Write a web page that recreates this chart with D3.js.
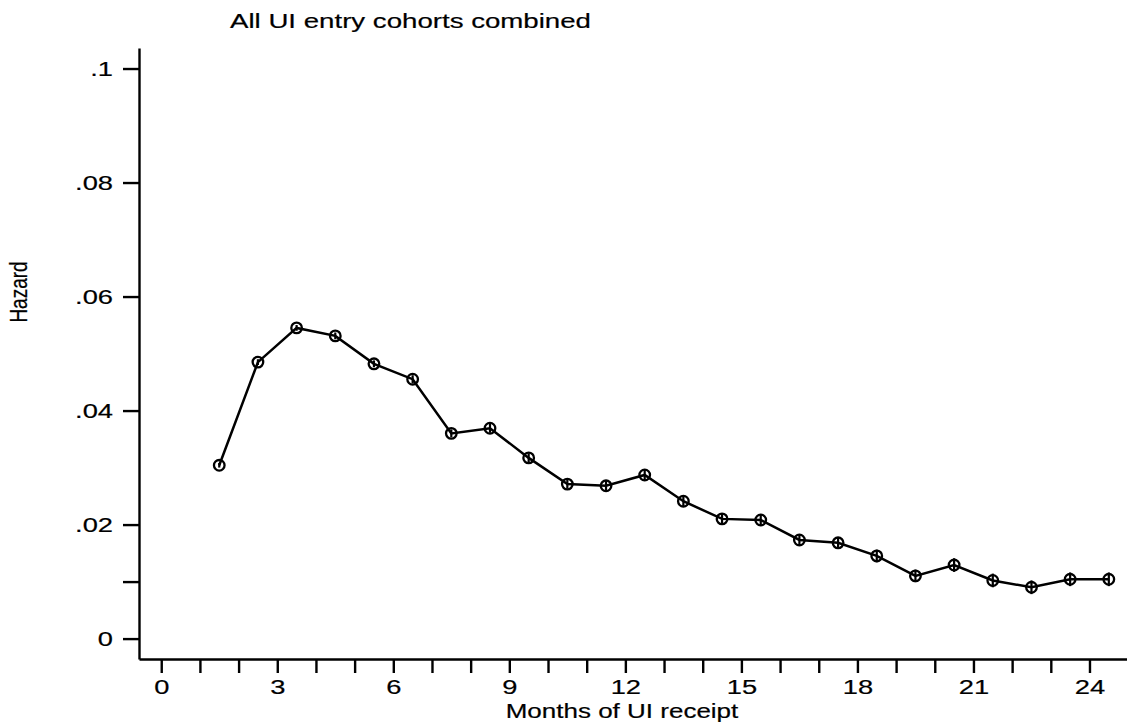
<!DOCTYPE html>
<html>
<head>
<meta charset="utf-8">
<script src="https://cdn.jsdelivr.net/npm/d3@7/dist/d3.min.js"></script>
<style>
  body { margin: 0; background: #fff; }
  svg text { font-family: "Liberation Sans", Arial, sans-serif; fill: #000; stroke: #000; stroke-width: 0.2px; }
</style>
</head>
<body>
<svg id="chart" width="1127" height="728"></svg>
<script>
// hazard by month of UI receipt (mid-month points)
const months = [1.5, 2.5, 3.5, 4.5, 5.5, 6.5, 7.5, 8.5, 9.5, 10.5, 11.5, 12.5,
                13.5, 14.5, 15.5, 16.5, 17.5, 18.5, 19.5, 20.5, 21.5, 22.5, 23.5, 24.5];
const hazard = [0.0304, 0.0485, 0.0545, 0.0531, 0.0482, 0.0455, 0.0360, 0.0369,
                0.0317, 0.0271, 0.0268, 0.0287, 0.0241, 0.0210, 0.0208, 0.0173,
                0.0168, 0.0145, 0.0110, 0.0129, 0.0102, 0.0090, 0.0104, 0.0104];
// half width of the confidence band at each point
const ciHalf = [0.0004, 0.0005, 0.0005, 0.0006, 0.0006, 0.0007, 0.0007, 0.0008,
                0.0008, 0.0008, 0.0009, 0.0009, 0.0009, 0.0010, 0.0010, 0.0010,
                0.0010, 0.0011, 0.0011, 0.0012, 0.0012, 0.0012, 0.0012, 0.0012];
const xTicks = d3.range(0, 25);
const yTicks = [0, 0.01, 0.02, 0.04, 0.06, 0.08, 0.1];
const yLabels = {0: "0", 0.02: ".02", 0.04: ".04", 0.06: ".06", 0.08: ".08", 0.1: ".1"};

const svg = d3.select("#chart");
const stretch = 1.3; // text in the original is drawn wide

// scales
const x = d3.scaleLinear().domain([-0.575, 24.97]).range([139, 1127]);
const y = d3.scaleLinear().domain([-0.00358, 0.1036]).range([659, 48]);

// x axis
const xAxis = d3.axisBottom(x)
    .tickValues(xTicks)
    .tickSize(14)
    .tickSizeOuter(0)
    .tickPadding(6)
    .tickFormat(d => d % 3 === 0 ? d : "");
const gx = svg.append("g")
    .attr("transform", "translate(0,659)")
    .call(xAxis);
gx.selectAll("path, line").attr("stroke", "#000").attr("stroke-width", 2.4);
gx.selectAll("text")
    .style("font-size", "21px")
    .attr("transform", "scale(" + stretch + ",1)");

// y axis
const yAxis = d3.axisLeft(y)
    .tickValues(yTicks)
    .tickSize(16)
    .tickSizeOuter(0)
    .tickFormat(d => yLabels[d] || "");
const gy = svg.append("g")
    .attr("transform", "translate(139,0)")
    .call(yAxis);
gy.selectAll("path, line").attr("stroke", "#000").attr("stroke-width", 2.4);
gy.selectAll("text")
    .style("font-size", "21px")
    .attr("x", -26 / stretch)
    .attr("transform", "scale(" + stretch + ",1)");

// helper for stretched free text
function wideText(tx, ty, str, size, anchor, rot, len){
    let g = svg.append("g")
        .attr("transform", "translate(" + tx + "," + ty + ") scale(" + stretch + ",1)" + (rot ? " rotate(" + rot + ")" : ""));
    let t = g.append("text")
        .attr("text-anchor", anchor)
        .style("font-size", size + "px")
        .text(str);
    if(len){
        t.attr("textLength", len / stretch).attr("lengthAdjust", "spacingAndGlyphs");
    }
}

wideText(230, 28, "All UI entry cohorts combined", 21, "start", 0, 361);
wideText(622, 718, "Months of UI receipt", 20, "middle");
wideText(27, 292, "Hazard", 19, "middle", -90);

// connecting line
const line = d3.line()
    .x((d, i) => x(months[i]))
    .y(d => y(d));
svg.append("path")
    .datum(hazard)
    .attr("d", line)
    .attr("fill", "none")
    .attr("stroke", "#000")
    .attr("stroke-width", 2.5);

// confidence bars
svg.selectAll(".ci")
    .data(hazard)
    .enter()
    .append("line")
    .attr("class", "ci")
    .attr("x1", (d, i) => x(months[i]))
    .attr("x2", (d, i) => x(months[i]))
    .attr("y1", (d, i) => y(d - ciHalf[i]))
    .attr("y2", (d, i) => y(d + ciHalf[i]))
    .attr("stroke", "#000")
    .attr("stroke-width", 2.2);

// hollow circle markers
svg.selectAll(".pt")
    .data(hazard)
    .enter()
    .append("circle")
    .attr("class", "pt")
    .attr("cx", (d, i) => x(months[i]))
    .attr("cy", d => y(d))
    .attr("r", 5.3)
    .attr("fill", "none")
    .attr("stroke", "#000")
    .attr("stroke-width", 2.3);
</script>
</body>
</html>
